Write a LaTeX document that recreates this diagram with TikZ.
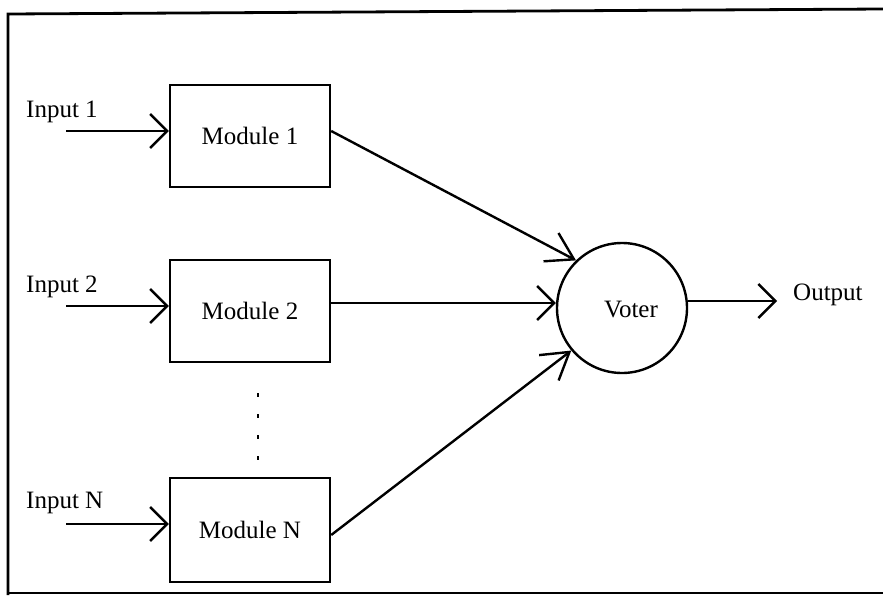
\documentclass[tikz,border=0pt]{standalone}
\usepackage{fontspec}
\setmainfont{Liberation Serif}
\usetikzlibrary{arrows.meta}
\begin{document}
\begin{tikzpicture}[x=0.5pt,y=-0.5pt,
  line width=1.2pt,
  txt/.style={inner sep=0pt, font=\fontsize{12.5}{15}\selectfont},
  module/.style={draw, rectangle, minimum width=80pt, minimum height=51pt,
                 inner sep=0pt, font=\fontsize{12.5}{15}\selectfont},
  voterc/.style={draw, circle, minimum size=65pt, inner sep=0pt},
  flat/.style={-{Straight Barb[length=8.5pt, width=17pt, line width=1.2pt]}},
  slant/.style={-{Straight Barb[length=13pt, width=16pt, line width=1.2pt]}},
]
  % page area
  \useasboundingbox (0,0) rectangle (883,595);
  \fill[white] (0,0) rectangle (883,595);

  % enclosing frame
  \draw[line width=1.4pt] (883,9) -- (8,14) -- (8,595);
  \draw[line width=1.1pt] (8,593) -- (883,593);

  % redundant modules
  \node[module] (m1) at (250,136) {Module 1};
  \node[module] (m2) at (250,311) {Module 2};
  \node[module, minimum height=52pt] (mN) at (250,530) {Module N};

  % elided modules
  \foreach \y in {395,416,437,458}
    \draw[line width=1.1pt] (258,\y-2) -- (258,\y+2);

  % voter
  \node[voterc] (voter) at (622,308) {};
  \node[txt, anchor=base] (vtxt) at (631,317) {Voter};

  % inputs
  \node[txt, anchor=base west] (lin1) at (25,117) {Input 1};
  \node[txt, anchor=base west] (lin2) at (25,292) {Input 2};
  \node[txt, anchor=base west] (linN) at (25,508) {Input N};
  \coordinate (in1) at (66,131);
  \coordinate (in2) at (66,306);
  \coordinate (inN) at (66,524);
  \draw[flat] (in1) -- (in1 -| m1.west);
  \draw[flat] (in2) -- (in2 -| m2.west);
  \draw[flat] (inN) -- (inN -| mN.west);

  % module outputs into the voter
  \draw[slant] ([yshift=2.5pt]m1.east) -- (voter.134);
  \draw[flat] ([yshift=4pt]m2.east) -- ([yshift=4pt]m2.east -| voter.west);
  \draw[slant] ([yshift=-2.5pt]mN.east) -- (voter.220);

  % output
  \node[txt, anchor=base west] (lout) at (792,300) {Output};
  \coordinate (out) at (777,301);
  \draw[flat] (voter.east |- out) -- (out);
\end{tikzpicture}
\end{document}
